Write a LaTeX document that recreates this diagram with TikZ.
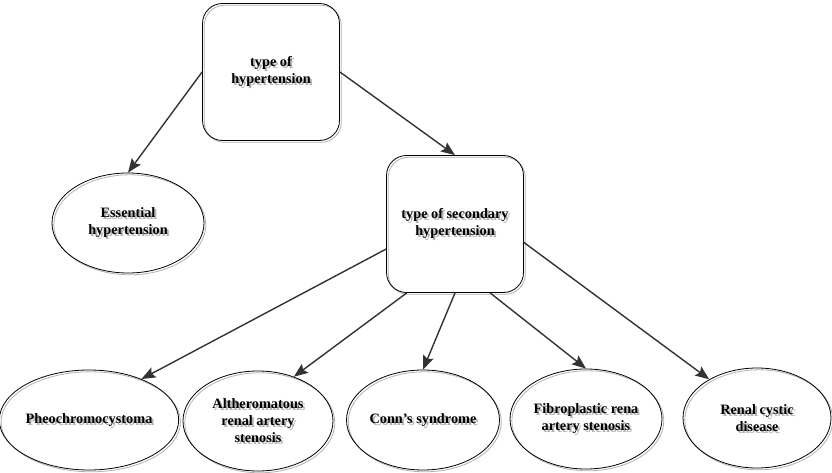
\documentclass[tikz,border=0pt]{standalone}
\usepackage{fontspec}
\setmainfont{Liberation Serif}
\usetikzlibrary{shapes.geometric}
\usetikzlibrary{shadows}
\usetikzlibrary{arrows.meta}

\begin{document}
\begin{tikzpicture}[x=1pt,y=-1pt,>={Stealth[length=14pt,width=11pt,inset=2.5pt]},
	txt/.style={font=\fontsize{14.3}{17}\selectfont\bfseries,align=center},
	txt shadow/.style={txt,text=black!30},
	line shadow/.style={drop shadow={shadow xshift=1.8pt,shadow yshift=-1.8pt,fill=none,draw=black!30,opacity=1}},
	box node/.style={txt,draw,line width=0.8pt,rounded corners=20pt,minimum width=137pt,
		minimum height=137pt,inner sep=0pt,line shadow},
	oval node/.style={txt,draw,line width=0.8pt,ellipse,minimum width=152pt,
		minimum height=100pt,inner sep=0pt,line shadow}]
	
	\useasboundingbox (0,0) rectangle (832,473);
	
	% grey copies of the texts
	\node[txt shadow] at (273,74) {type of\\hypertension};
	\node[txt shadow] at (457,226) {type of secondary\\hypertension};
	\node[txt shadow] at (130,225) {Essential\\hypertension};
	\node[txt shadow] at (91,422) {Pheochromocystoma};
	\node[txt shadow] at (260,423) {Altheromatous\\renal artery\\stenosis};
	\node[txt shadow] at (425,422) {Conn’s syndrome};
	\node[txt shadow] at (588,421) {Fibroplastic rena\\artery stenosis};
	\node[txt shadow] at (759,420) {Renal cystic\\disease};
	
	\node[box node] (type) at (271,72) {type of\\hypertension};
	\node[box node] (second) at (455,224) {type of secondary\\hypertension};
	\node[oval node] (essential) at (128,223) {Essential\\hypertension};
	\node[oval node,minimum width=166pt] (pheo) at (89,420) {Pheochromocystoma};
	\node[oval node,minimum width=150pt] (athero) at (258,421) {Altheromatous\\renal artery\\stenosis};
	\node[oval node,minimum width=153pt] (conn) at (423,420) {Conn’s syndrome};
	\node[oval node] (fibro) at (586,419) {Fibroplastic rena\\artery stenosis};
	\node[oval node,minimum width=148pt] (renal) at (757,418) {Renal cystic\\disease};
	
	\path[->,every edge/.style={draw,black!80,line width=1.4pt}]
	(type.west) edge (essential.north)
	(type.east) edge (second.north)
	(second.200) edge (pheo.38)
	(second.235) edge (athero.51)
	(second.south) edge (conn.north)
	(second.297) edge (fibro.north)
	(second.345) edge (renal.141)
	;
\end{tikzpicture}
\end{document}
